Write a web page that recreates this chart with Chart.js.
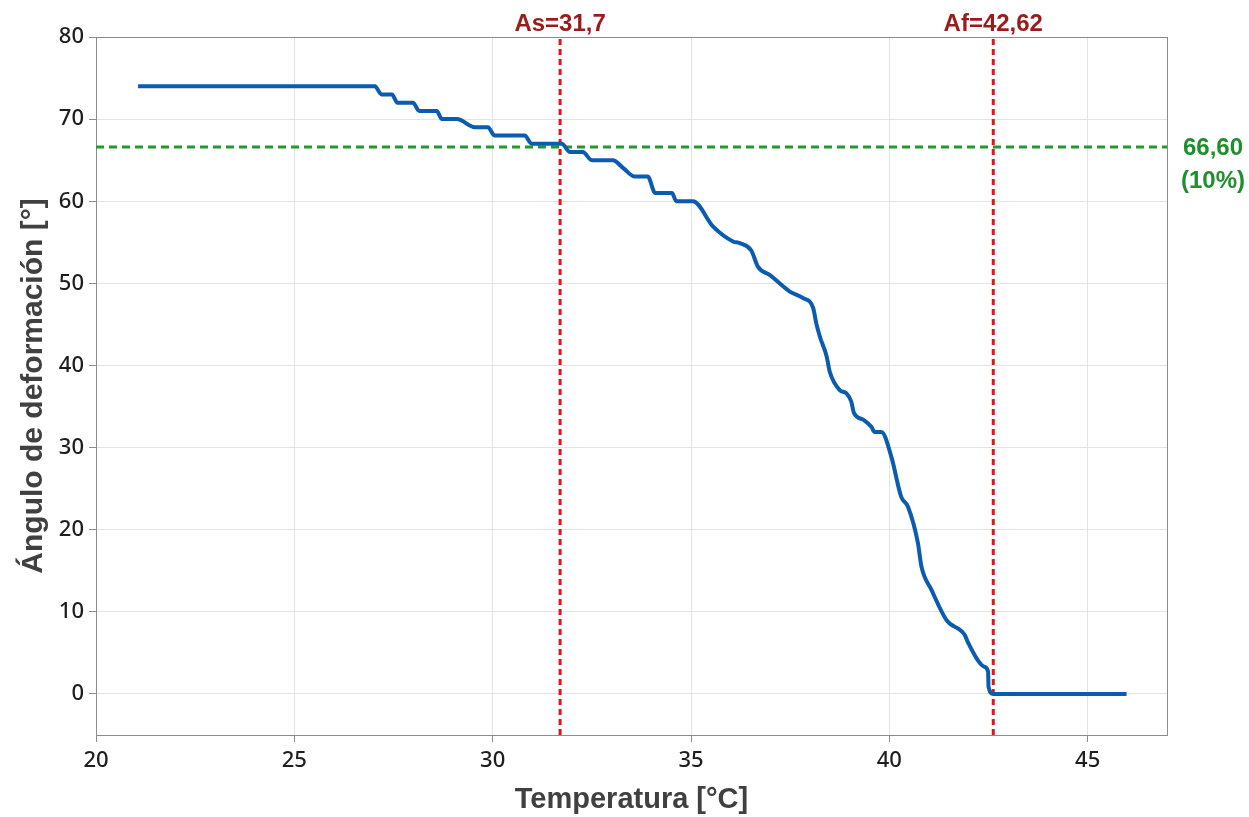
<!DOCTYPE html>
<html>
<head>
<meta charset="utf-8">
<script src="https://cdn.jsdelivr.net/npm/chart.js@4.4.1/dist/chart.umd.min.js"></script>
<style>
  html, body { margin: 0; padding: 0; background: #fff; }
  canvas { display: block; }
</style>
</head>
<body>
<canvas id="chart" width="1249" height="817"></canvas>
<script>
// Deformation angle vs temperature (heating curve)
const temperatures = [
  21.06, 27.03, 27.2, 27.46, 27.6, 27.99, 28.15, 28.59, 28.72, 29.1,
  29.55, 29.88, 30.05, 30.81, 30.98, 31.74, 31.95, 32.27, 32.5, 33.03,
  33.3, 33.58, 33.91, 34.1, 34.52, 34.63, 35.05, 35.56, 36.06, 36.23,
  36.52, 36.69, 36.99, 37.49, 37.83, 38.08, 38.16, 38.25, 38.42, 38.5,
  38.75, 38.92, 39.04, 39.11, 39.34, 39.55, 39.63, 39.8, 40.05, 40.3,
  40.47, 40.72, 40.81, 41.06, 41.44, 41.9, 41.99, 42.4, 42.49, 42.5,
  42.62, 45.98
];
const angles = [
  74, 74, 73, 73, 72, 72, 71, 71, 70, 70,
  69, 69, 68, 68, 67, 67, 66, 66, 65, 65,
  64, 63, 63, 61, 61, 60, 60, 56.9, 55.1, 54.9,
  54, 52, 51, 49, 48.2, 47, 45.1, 43.5, 41.1, 39.2,
  37, 36.6, 35.6, 34.2, 33.4, 32.5, 31.9, 31.9, 28.9, 24,
  22.8, 18.4, 15.5, 12.7, 9, 7.2, 6.2, 3.3, 2.7, 0.9,
  0, 0
];

const asTemp = 31.7;
const afTemp = 42.62;
const asLabel = 'As=31,7';
const afLabel = 'Af=42,62';
const refAngle = 66.6;
const refLabels = ['66,60', '(10%)'];

const xTicks = { min: 20, max: 47, step: 5 };
const yTicks = { min: -5, max: 80, step: 10 };

const curve = temperatures.map((t, i) => ({ x: t, y: angles[i] }));

// labels for As / Af above the plot and for the 10% level on the right
const markerLabels = {
  id: 'markerLabels',
  afterDraw(chart) {
    const { ctx, chartArea, scales } = chart;
    ctx.save();
    ctx.font = 'bold 24px "Liberation Sans", Arial, sans-serif';
    ctx.fillStyle = '#9a1b1b';
    ctx.textAlign = 'center';
    ctx.textBaseline = 'alphabetic';
    ctx.fillText(asLabel, scales.x.getPixelForValue(asTemp), chartArea.top - 6);
    ctx.fillText(afLabel, scales.x.getPixelForValue(afTemp), chartArea.top - 6);

    ctx.fillStyle = '#1e8f2c';
    ctx.textBaseline = 'middle';
    const yRef = scales.y.getPixelForValue(refAngle);
    const cx = chartArea.right + 46;
    ctx.fillText(refLabels[0], cx, yRef + 1);
    ctx.fillText(refLabels[1], cx, yRef + 34);
    ctx.restore();
  }
};

// frame around the plot area
const frame = {
  id: 'frame',
  beforeDatasetsDraw(chart) {
    const { ctx, chartArea } = chart;
    ctx.save();
    ctx.strokeStyle = '#8c8c8c';
    ctx.lineWidth = 1;
    ctx.strokeRect(chartArea.left + 0.5, chartArea.top + 0.5,
      chartArea.right - chartArea.left, chartArea.bottom - chartArea.top);
    ctx.restore();
  }
};

const tickFont = { family: '"Noto Sans", sans-serif', size: 22, weight: 500 };
const titleFont = { family: '"Liberation Sans", Arial, sans-serif', weight: 'bold' };

new Chart(document.getElementById('chart'), {
  type: 'line',
  data: {
    datasets: [
      {
        data: curve,
        borderColor: '#0b5bb0',
        borderWidth: 4,
        pointRadius: 0,
        cubicInterpolationMode: 'monotone',
        order: 0
      },
      {
        data: [{ x: asTemp, y: yTicks.min }, { x: asTemp, y: yTicks.max }],
        borderColor: '#e0141c',
        borderWidth: 3,
        borderDash: [6, 4],
        pointRadius: 0,
        order: 2
      },
      {
        data: [{ x: afTemp, y: yTicks.min }, { x: afTemp, y: yTicks.max }],
        borderColor: '#e0141c',
        borderWidth: 3,
        borderDash: [6, 4],
        pointRadius: 0,
        order: 2
      },
      {
        data: [{ x: xTicks.min, y: refAngle }, { x: xTicks.max, y: refAngle }],
        borderColor: '#1e9a2e',
        borderWidth: 3,
        borderDash: [8, 5],
        pointRadius: 0,
        order: 1
      }
    ]
  },
  options: {
    responsive: false,
    animation: false,
    layout: { padding: { left: 0, top: 37, right: 82, bottom: 0 } },
    plugins: {
      legend: { display: false },
      tooltip: { enabled: false }
    },
    scales: {
      x: {
        type: 'linear',
        min: xTicks.min,
        max: xTicks.max,
        border: { display: true, color: '#8c8c8c' },
        grid: { color: '#e3e3e3', tickColor: '#8c8c8c', tickLength: 7 },
        ticks: {
          stepSize: xTicks.step,
          includeBounds: false,
          color: '#1e1e1e',
          padding: 6,
          font: tickFont
        },
        title: {
          display: true,
          text: 'Temperatura [°C]',
          color: '#404040',
          font: { ...titleFont, size: 29 },
          padding: { top: 0, bottom: 0 }
        },
        afterFit(scale) { scale.height = 82; }
      },
      y: {
        type: 'linear',
        min: yTicks.min,
        max: yTicks.max,
        border: { display: true, color: '#8c8c8c' },
        grid: { color: '#e3e3e3', tickColor: '#8c8c8c', tickLength: 7 },
        ticks: {
          stepSize: yTicks.step,
          includeBounds: false,
          color: '#1e1e1e',
          padding: 5,
          font: tickFont
        },
        title: {
          display: true,
          text: 'Ángulo de deformación [°]',
          color: '#404040',
          font: { ...titleFont, size: 30 },
          padding: { top: 16, bottom: 0 }
        },
        afterFit(scale) { scale.width = 96; }
      }
    }
  },
  plugins: [frame, markerLabels]
});
</script>
</body>
</html>
